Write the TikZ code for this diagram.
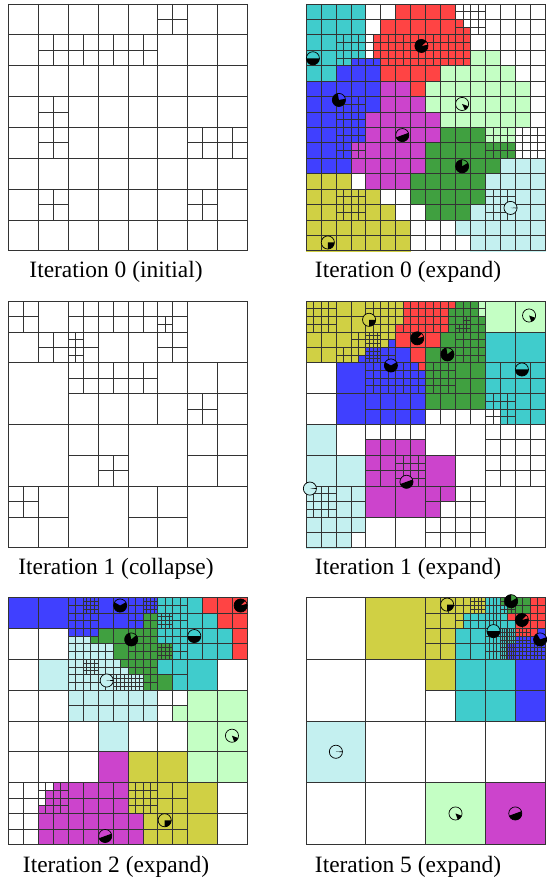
\documentclass[tikz,border=0pt]{standalone}
\usepackage{fontspec}
\setmainfont{Liberation Serif}
\usepackage{tikz}
\usepackage{xcolor}

\definecolor{qc}{RGB}{64,204,204}
\definecolor{qr}{RGB}{255,68,68}
\definecolor{qb}{RGB}{64,64,255}
\definecolor{qm}{RGB}{204,68,204}
\definecolor{ql}{RGB}{196,255,196}
\definecolor{qg}{RGB}{64,160,64}
\definecolor{qy}{RGB}{208,208,68}
\definecolor{qt}{RGB}{196,240,240}
\definecolor{qw}{RGB}{255,255,255}

\def\agr{5.6pt}
% cross that splits the square (#1,#2) of side #3
\newcommand\qsplit[3]{\draw[qline] ({#1+#3/2},#2) -- ++(0,#3) (#1,{#2+#3/2}) -- ++(#3,0);}
% #5 x #5 grid in the box (#1,#2)-(#3,#4)
\newcommand\qgrid[5]{\foreach \k in {0,...,#5}{%
  \draw[qline] ({#1+(#3-#1)*\k/#5},#2) -- ({#1+(#3-#1)*\k/#5},#4)
               (#1,{#2+(#4-#2)*\k/#5}) -- (#3,{#2+(#4-#2)*\k/#5});}}
% colour map, one letter per cell of side #1
\newcommand\colormap[2]{\foreach \row [count=\j from 0] in {#2}{%
  \foreach \c [count=\i from 0] in \row {%
    \fill[fill=q\c, draw=q\c, line width=0.2pt] ({\i*#1},{\j*#1}) rectangle ++(#1,#1);}}}
% agent: name, position, colour, black sector from #4 to #5
\newcommand\agent[5]{%
  \coordinate (#1) at (#2);
  \fill[#3] (#1) circle[radius=\agr];
  \fill[black] (#1) -- ++(#4:\agr) arc[start angle=#4, end angle=#5, radius=\agr] -- cycle;
  \draw[line width=0.6pt] (#1) circle[radius=\agr];}

\begin{document}
\begin{tikzpicture}[x=0.03cm, y=-0.03cm,
    qline/.style={draw=black!80, line width=0.6pt},
    frame/.style={draw=black!80, line width=0.8pt},
    panel/.style={x=0.897cm, y=-0.9255cm},
    captext/.style={font=\fontsize{20}{24}\selectfont, inner sep=0pt, anchor=base}
  ]
  \useasboundingbox (0,0) rectangle (546,879);

  % Iteration 0 (initial)
  \begin{scope}[shift={(8.3,4)}, panel]
    \qgrid{0}{0}{8}{8}{8}
    \foreach \x/\y in {5/0,1/1,2/1,3/1,4/1,1/3,1/4,6/4,7/4,1/6,6/6} {\qsplit{\x}{\y}{1}}
    \draw[frame] (0,0) rectangle (8,8);
  \end{scope}

  % Iteration 0 (expand)
  \begin{scope}[shift={(306,4)}, panel]
    \colormap{0.5}{
      {c,c,c,c,w,w,r,r,r,r,w,w,w,w,w,w},
      {c,c,c,c,w,r,r,r,r,r,w,w,w,w,w,w},
      {c,c,c,c,w,r,r,r,r,r,r,w,w,w,w,w},
      {c,c,c,c,w,r,r,r,r,r,r,l,l,w,w,w},
      {c,c,b,b,b,r,r,r,r,l,l,l,l,l,w,w},
      {b,b,b,b,b,m,m,r,l,l,l,l,l,l,l,w},
      {b,b,b,b,b,m,m,m,l,l,l,l,l,l,l,w},
      {b,b,b,b,m,m,m,m,m,l,l,l,l,l,l,w},
      {b,b,b,b,m,m,m,m,m,g,g,g,l,l,w,w},
      {b,b,b,m,m,m,m,m,g,g,g,g,g,g,w,w},
      {b,b,b,m,m,m,m,m,g,g,g,g,g,t,t,t},
      {y,y,y,w,m,m,m,g,g,g,g,g,t,t,t,t},
      {y,y,y,y,y,w,w,g,g,g,g,g,t,t,t,t},
      {y,y,y,y,y,y,w,w,g,g,g,t,t,t,t,t},
      {y,y,y,y,y,y,y,w,w,w,t,t,t,t,t,t},
      {y,y,y,y,y,y,y,w,w,w,w,t,t,t,t,t}}
    \fill[qr] (2.25,1) rectangle (2.5,1.75);
    \fill[qb] (1.5,1.75) rectangle (2.5,2);
    \fill[qr] (5,0.75) rectangle (5.5,1);
    \fill[qr] (5,0.5) rectangle (5.25,0.75);
    \qgrid{0}{0}{8}{8}{16}
    \foreach \x/\y in {10/0,11/0,10/1,11/1,4/2,5/2,6/2,7/2,8/2,9/2,10/2,4/3,5/3,6/3,7/3,8/3,9/3,10/3,
        2/2,3/2,2/3,3/3,2/6,3/6,2/7,3/7,2/8,3/8,2/9,3/9,12/8,13/8,14/8,15/8,12/9,13/9,14/9,15/9,
        2/12,3/12,2/13,3/13,12/12,13/12,12/13,13/13} {\qsplit{\x/2}{\y/2}{0.5}}
    \draw[frame] (0,0) rectangle (8,8);
    \agent{a2r}{3.86,1.36}{qr}{40}{370}
    \agent{a2c}{0.23,1.76}{qc}{180}{360}
    \agent{a2b}{1.1,3.11}{qb}{100}{370}
    \agent{a2l}{5.22,3.24}{ql}{295}{340}
    \agent{a2m}{3.22,4.25}{qm}{200}{380}
    \agent{a2g}{5.22,5.26}{qg}{90}{390}
    \agent{a2t}{6.84,6.61}{qt}{356}{364}
    \agent{a2y}{0.73,7.73}{qy}{270}{360}
  \end{scope}

  % Iteration 1 (collapse)
  \begin{scope}[shift={(8.3,301)}, panel]
    \qgrid{0}{0}{8}{8}{4}
    \foreach \x/\y in {0/0,2/0,4/0,2/2,4/2,6/2,2/4,6/4,0/6,4/6} {\qsplit{\x}{\y}{2}}
    \foreach \x/\y in {0/0,1/1,2/0,3/0,4/0,5/0,2/1,5/1,2/2,3/2,4/2,6/3,3/5,0/6} {\qsplit{\x}{\y}{1}}
    \qsplit{5}{0.5}{0.5}
    \qsplit{2}{1}{0.5}
    \qsplit{2}{1.5}{0.5}
    \draw[frame] (0,0) rectangle (8,8);
  \end{scope}

  % Iteration 1 (expand)
  \begin{scope}[shift={(306,301)}, panel]
    \colormap{0.5}{
      {y,y,y,y,y,y,r,r,r,r,g,g,l,l,l,l},
      {y,y,y,y,y,y,r,r,r,r,g,g,l,l,l,l},
      {y,y,y,y,y,y,r,r,r,g,g,g,c,c,c,c},
      {y,y,y,y,b,b,b,r,g,g,g,g,c,c,c,c},
      {w,w,b,b,b,b,b,b,g,g,g,g,c,c,c,c},
      {w,w,b,b,b,b,b,b,g,g,g,g,c,c,c,c},
      {w,w,b,b,b,b,b,b,g,g,g,g,c,c,c,c},
      {w,w,b,b,b,b,b,b,w,w,w,w,w,c,c,c},
      {t,t,w,w,w,w,w,w,w,w,w,w,w,w,w,w},
      {t,t,w,w,m,m,m,m,w,w,w,w,w,w,w,w},
      {t,t,t,t,m,m,m,m,m,m,w,w,w,w,w,w},
      {t,t,t,t,m,m,m,m,m,m,w,w,w,w,w,w},
      {t,t,t,t,m,m,m,m,m,m,w,w,w,w,w,w},
      {t,t,t,t,m,m,m,m,m,w,w,w,w,w,w,w},
      {t,t,t,t,w,w,w,w,w,w,w,w,w,w,w,w},
      {t,t,t,w,w,w,w,w,w,w,w,w,w,w,w,w}}
    \fill[qy] (3,0) rectangle (3.25,0.75);
    \fill[qg] (4.75,0.25) rectangle (5,1);
    \fill[ql] (5.75,0) rectangle (6,0.5);
    \fill[qb] (1.75,1.75) rectangle (2,2);
    \fill[qb] (2.75,1.25) rectangle (3,1.5);
    \fill[qr] (3.75,2) rectangle (4,2.25);
    \qgrid{0}{0}{8}{8}{8}
    \foreach \x/\y in {0/0,1/0,2/0,3/0,4/0,5/0,0/1,1/1,2/1,3/1,4/1,5/1,2/2,3/2,4/2,5/2,6/2,7/2,
        2/3,3/3,4/3,5/3,6/3,7/3,2/4,3/4,6/4,7/4,2/5,3/5,6/5,7/5,0/6,1/6,4/6,5/6,0/7,1/7,4/7,5/7} {\qsplit{\x}{\y}{1}}
    \foreach \x/\y in {0/0,1/0,0/1,1/1,4/0,5/0,4/1,5/1,6/0,7/0,6/1,7/1,8/0,9/0,8/1,9/1,10/0,11/0,10/1,11/1,
        2/3,3/3,3/2,4/2,5/2,4/3,5/3,10/2,11/2,10/3,11/3,4/4,5/4,4/5,5/5,6/4,7/4,6/5,7/5,8/4,9/4,8/5,9/5,
        12/6,13/6,12/7,13/7,6/10,7/10,6/11,7/11,0/12,1/12,0/13,1/13} {\qsplit{\x/2}{\y/2}{0.5}}
    \foreach \x/\y in {8/4,9/4,8/5,9/5,8/6,9/6,8/7,9/7,21/2,21/3,20/3} {\qsplit{\x/4}{\y/4}{0.25}}
    \draw[frame] (0,0) rectangle (8,8);
    \agent{a4y}{2.11,0.61}{qy}{270}{360}
    \agent{a4l}{7.46,0.47}{ql}{290}{340}
    \agent{a4r}{3.72,1.21}{qr}{45}{375}
    \agent{a4g}{4.73,1.73}{qg}{100}{400}
    \agent{a4b}{2.84,2.09}{qb}{150}{390}
    \agent{a4c}{7.22,2.22}{qc}{180}{360}
    \agent{a4m}{3.36,5.86}{qm}{200}{380}
    \agent{a4t}{0.13,6.08}{qt}{356}{364}
  \end{scope}

  % Iteration 2 (expand)
  \begin{scope}[shift={(8.3,597.5)}, panel]
    \colormap{0.5}{
      {b,b,b,b,b,b,b,b,b,b,c,c,c,r,r,r},
      {b,b,b,b,b,b,b,b,b,g,c,c,c,c,r,r},
      {w,w,w,w,t,t,g,g,g,g,c,c,c,c,c,r},
      {w,w,w,w,t,t,t,g,g,g,g,c,c,c,c,r},
      {w,w,t,t,t,t,t,t,g,g,c,c,c,c,w,w},
      {w,w,t,t,t,t,t,t,t,g,g,c,c,c,w,w},
      {w,w,w,w,t,t,t,t,t,t,w,w,l,l,l,l},
      {w,w,w,w,t,t,t,t,t,t,w,l,l,l,l,l},
      {w,w,w,w,w,w,t,t,w,w,w,w,l,l,l,l},
      {w,w,w,w,w,w,t,t,w,w,w,w,l,l,l,l},
      {w,w,w,w,w,w,m,m,y,y,y,y,l,l,l,l},
      {w,w,w,w,w,w,m,m,y,y,y,y,l,l,l,l},
      {w,w,m,m,m,m,m,m,y,y,y,y,y,y,w,w},
      {w,w,m,m,m,m,m,m,y,y,y,y,y,y,w,w},
      {w,w,m,m,m,m,m,m,m,y,y,y,y,y,w,w},
      {w,w,m,m,m,m,m,m,m,y,y,y,y,y,w,w}}
    \fill[qb] (2,1) rectangle (3,1.25);
    \fill[qg] (2.75,1.25) rectangle (3,1.5);
    \fill[qg] (3.75,2) rectangle (4,2.25);
    \fill[qw] (1,6) rectangle (1.5,6.25);
    \fill[qw] (1,6.25) rectangle (1.25,6.75);
    \qgrid{0}{0}{8}{8}{8}
    \foreach \x/\y in {2/0,3/0,4/0,5/0,6/0,7/0,2/1,3/1,4/1,5/1,6/1,7/1,2/2,3/2,4/2,5/2,2/3,3/3,4/3,5/3,
        0/6,1/6,2/6,3/6,4/6,5/6,0/7,1/7,2/7,3/7,4/7,5/7} {\qsplit{\x}{\y}{1}}
    \foreach \x/\y in {4/0,5/0,4/1,5/1,8/0,9/0,8/1,9/1,10/0,11/0,10/1,11/1,4/2,5/2,4/3,5/3,6/3,
        8/2,9/2,8/3,9/3,10/2,11/2,10/3,11/3,4/4,5/4,4/5,5/5,6/4,7/4,6/5,7/5,8/4,9/4,8/5,9/5,
        2/12,3/12,2/13,3/13,8/12,9/12,8/13,9/13} {\qsplit{\x/2}{\y/2}{0.5}}
    \foreach \x/\y in {10/0,11/0,10/1,11/1,18/0,19/0,18/1,19/1,20/2,21/2,20/3,21/3,20/6,21/6,20/7,21/7,
        10/8,11/8,10/9,11/9,14/10,15/10,16/10,17/10,14/11,15/11,16/11,17/11} {\qsplit{\x/4}{\y/4}{0.25}}
    \draw[frame] (0,0) rectangle (8,8);
    \agent{a5b}{3.74,0.26}{qb}{150}{390}
    \agent{a5r}{7.77,0.26}{qr}{45}{375}
    \agent{a5g}{4.11,1.36}{qg}{100}{400}
    \agent{a5c}{6.22,1.25}{qc}{180}{360}
    \agent{a5t}{3.29,2.69}{qt}{356}{364}
    \agent{a5l}{7.48,4.48}{ql}{290}{340}
    \agent{a5y}{5.23,7.22}{qy}{270}{360}
    \agent{a5m}{3.24,7.73}{qm}{200}{380}
  \end{scope}

  % Iteration 5 (expand)
  \begin{scope}[shift={(306,597.5)}, panel]
    \fill[qy] (2,0) rectangle (4,2);
    \fill[qt] (0,4) rectangle (2,6);
    \fill[ql] (4,6) rectangle (6,8);
    \fill[qm] (6,6) rectangle (8,8);
    \fill[qy] (4,0) rectangle (5,3);
    \fill[qy] (5,0) rectangle (6,0.5);
    \fill[qc] (5,0.5) rectangle (6,2);
    \fill[qy] (5,0.5) rectangle (5.25,1);
    \fill[qc] (5,2) rectangle (7,4);
    \fill[qb] (7,2) rectangle (8,4);
    \begin{scope}[shift={(6,0)}]
      \colormap{0.25}{
        {c,c,g,g,g,g,r,r},
        {c,c,c,g,g,g,r,r},
        {c,c,c,r,r,r,r,r},
        {c,c,c,c,r,r,r,r},
        {c,c,c,c,r,r,r,b},
        {c,c,c,c,b,b,b,b},
        {c,c,c,b,b,b,b,b},
        {c,c,c,b,b,b,b,b}}
    \end{scope}
    \qgrid{0}{0}{8}{8}{4}
    \foreach \x/\y in {4/0,6/0,4/2,6/2} {\qsplit{\x}{\y}{2}}
    \qsplit{4}{0}{1}
    \qsplit{4.5}{0}{0.5}
    \qsplit{4}{1}{1}
    \qsplit{5}{1}{1}
    \qgrid{5}{0}{6}{1}{4}
    \qgrid{5.5}{0}{6}{0.5}{4}
    \qgrid{6}{0}{8}{2}{8}
    \qgrid{6}{0}{6.5}{1}{4}
    \qgrid{6.5}{0}{7}{0.5}{4}
    \qgrid{6}{1}{6.5}{2}{4}
    \qgrid{6.5}{1}{7}{2}{8}
    \qgrid{7}{1}{7.5}{1.5}{4}
    \qgrid{7}{1.5}{7.5}{2}{4}
    \qgrid{7.5}{1.5}{8}{2}{4}
    \draw[frame] (0,0) rectangle (8,8);
    \agent{a6y}{4.72,0.23}{qy}{270}{360}
    \agent{a6g}{6.86,0.12}{qg}{90}{390}
    \agent{a6r}{7.22,0.73}{qr}{45}{375}
    \agent{a6c}{6.27,1.09}{qc}{180}{360}
    \agent{a6b}{7.83,1.36}{qb}{120}{380}
    \agent{a6t}{1,5}{qt}{356}{364}
    \agent{a6l}{5,7}{ql}{290}{340}
    \agent{a6m}{7,7}{qm}{200}{380}
  \end{scope}

  \node[captext] (cap0i) at (116,277) {Iteration 0 (initial)};
  \node[captext] (cap0e) at (408,277) {Iteration 0 (expand)};
  \node[captext] (cap1c) at (116,574) {Iteration 1 (collapse)};
  \node[captext] (cap1e) at (408,574) {Iteration 1 (expand)};
  \node[captext] (cap2e) at (116,872) {Iteration 2 (expand)};
  \node[captext] (cap5e) at (408,872) {Iteration 5 (expand)};
\end{tikzpicture}
\end{document}
